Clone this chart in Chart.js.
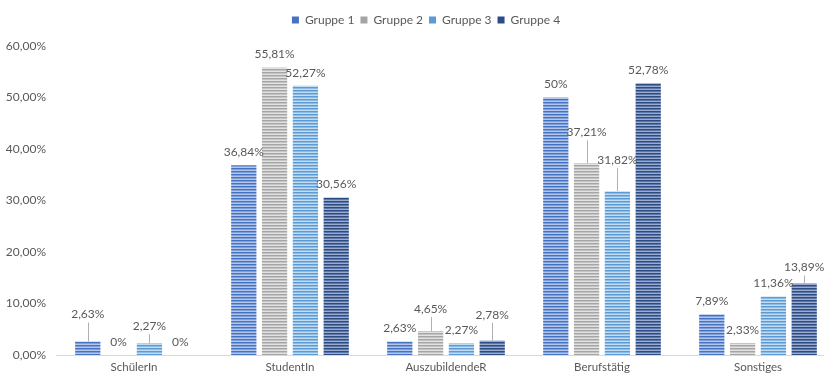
<!DOCTYPE html>
<html>
<head>
<meta charset="utf-8">
<script src="https://cdn.jsdelivr.net/npm/chart.js@4"></script>
<style>
  html, body { margin: 0; padding: 0; background: #fff; overflow: hidden; }
  #wrap { width: 840px; height: 376px; position: relative; }
</style>
</head>
<body>
<div id="wrap"><canvas id="chart"></canvas></div>
<script>
// categories + series (percent)
const categories = ["SchülerIn", "StudentIn", "AuszubildendeR", "Berufstätig", "Sonstiges"];
const seriesNames = ["Gruppe 1", "Gruppe 2", "Gruppe 3", "Gruppe 4"];
const gruppe1 = [2.63, 36.84, 2.63, 50, 7.89];
const gruppe2 = [0, 55.81, 4.65, 37.21, 2.33];
const gruppe3 = [2.27, 52.27, 2.27, 31.82, 11.36];
const gruppe4 = [0, 30.56, 2.78, 52.78, 13.89];
const yTicks = [0, 10, 20, 30, 40, 50, 60];

// extra lift (px) for labels that sit on a leader line
const labelLift = [
    [14, 0, 0, 0, 0],
    [0, 0, 9, 18, 0],
    [4, 0, 0, 18, 0],
    [0, 0, 13, 0, 3]
];

// stripe colours per group: dark / mid / light rows
const COLORS = [
    { dark: "#4472c4", mid: "#7f9fd8", light: "#b4c7ea" },
    { dark: "#a5a5a5", mid: "#c4c4c4", light: "#e2e2e2" },
    { dark: "#5b9bd5", mid: "#8dbbe4", light: "#c3dcf2" },
    { dark: "#2c4c86", mid: "#5e77a8", light: "#9aabcc" }
];

const FONT = "Lato, 'Open Sans', sans-serif";
const TEXT = "#595959";

function stripes(c) {
    const p = document.createElement("canvas");
    p.width = 4; p.height = 3;
    const g = p.getContext("2d");
    g.fillStyle = c.dark;  g.fillRect(0, 0, 4, 1);
    g.fillStyle = c.mid;   g.fillRect(0, 1, 4, 1);
    g.fillStyle = c.light; g.fillRect(0, 2, 4, 1);
    return g.createPattern(p, "repeat");
}

const fmt = (v) => String(v).replace(".", ",") + "%";

// value labels with optional leader lines
const valueLabels = {
    id: "valueLabels",
    afterDatasetsDraw(chart) {
        const ctx = chart.ctx;
        ctx.save();
        ctx.font = "12px " + FONT;
        ctx.fillStyle = TEXT;
        ctx.textAlign = "center";
        ctx.textBaseline = "middle";
        chart.data.datasets.forEach((ds, di) => {
            const meta = chart.getDatasetMeta(di);
            meta.data.forEach((bar, i) => {
                const lift = labelLift[di][i];
                const ty = bar.y - 13 - lift;
                if (lift > 0) {
                    ctx.strokeStyle = "#b0b0b0";
                    ctx.lineWidth = 1;
                    ctx.beginPath();
                    ctx.moveTo(Math.round(bar.x) + 0.5, ty + 8);
                    ctx.lineTo(Math.round(bar.x) + 0.5, bar.y);
                    ctx.stroke();
                }
                ctx.fillText(fmt(ds.data[i]), bar.x, ty);
            });
        });
        ctx.restore();
    }
};

// extra space under the legend, and nudge it right a little
const legendGap = {
    id: "legendGap",
    beforeInit(chart) {
        const fit = chart.legend.fit;
        chart.legend.fit = function () {
            fit.bind(chart.legend)();
            this.height += 10;
        };
    },
    afterLayout(chart) {
        chart.legend.left += 8;
        chart.legend.right += 8;
    }
};

const seriesData = [gruppe1, gruppe2, gruppe3, gruppe4];

new Chart(document.getElementById("chart"), {
    type: "bar",
    data: {
        labels: categories,
        datasets: seriesData.map((d, i) => ({
            label: seriesNames[i],
            data: d,
            backgroundColor: stripes(COLORS[i]),
            borderWidth: 0,
            categoryPercentage: 0.79,
            barPercentage: 0.82
        }))
    },
    options: {
        responsive: true,
        maintainAspectRatio: false,
        animation: false,
        layout: { padding: { top: 8, right: 4, left: 0, bottom: 0 } },
        plugins: {
            tooltip: { enabled: false },
            legend: {
                position: "top",
                labels: {
                    color: TEXT,
                    font: { size: 12, family: FONT },
                    boxWidth: 7,
                    boxHeight: 7,
                    padding: 6,
                    generateLabels: (chart) => seriesNames.map((n, i) => ({
                        text: n,
                        fillStyle: COLORS[i].dark,
                        strokeStyle: COLORS[i].dark,
                        lineWidth: 0,
                        fontColor: TEXT,
                        datasetIndex: i
                    }))
                }
            }
        },
        scales: {
            x: {
                grid: { display: false, drawTicks: false },
                border: { color: "#d9d9d9", width: 1 },
                afterFit: (ax) => { ax.height = 21; },
                ticks: { color: TEXT, font: { size: 11.5, family: FONT }, padding: 5 }
            },
            y: {
                min: 0,
                max: 60,
                grid: { display: false, drawTicks: false },
                border: { display: false },
                afterBuildTicks: (ax) => { ax.ticks = yTicks.map(v => ({ value: v })); },
                afterFit: (ax) => { ax.width = 56; },
                ticks: {
                    color: TEXT,
                    font: { size: 12, family: FONT },
                    padding: 10,
                    callback: (v) => v.toFixed(2).replace(".", ",") + "%"
                }
            }
        }
    },
    plugins: [valueLabels, legendGap]
});
</script>
</body>
</html>
